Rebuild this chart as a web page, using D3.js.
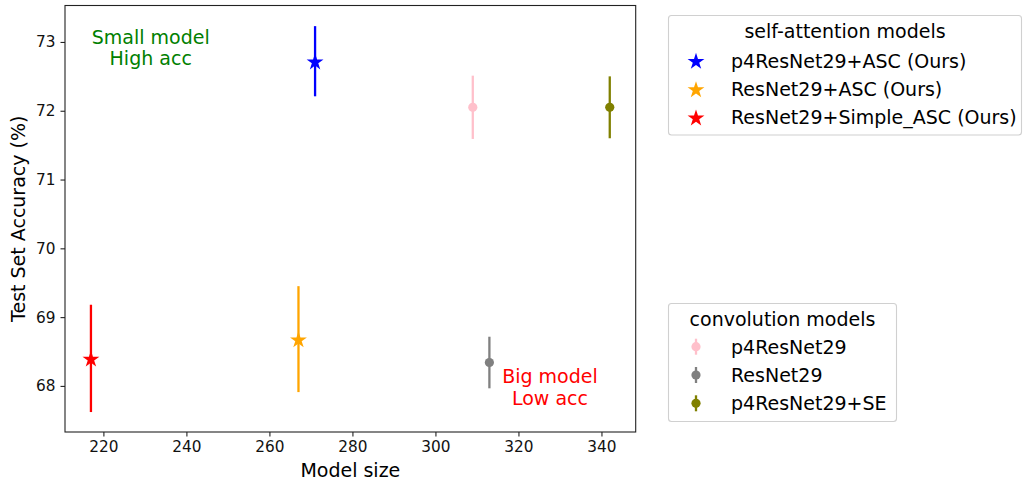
<!DOCTYPE html>
<html>
<head>
<meta charset="utf-8">
<script src="https://cdn.jsdelivr.net/npm/d3@7"></script>
<style>
  body { margin: 0; background: #fff; }
  text { font-family: "DejaVu Sans", sans-serif; }
</style>
</head>
<body>
<script>
// self-attention models (star markers)
let starModels = ["p4ResNet29+ASC (Ours)", "ResNet29+ASC (Ours)", "ResNet29+Simple_ASC (Ours)"];
let starSizes = [271, 267, 217];
let starAcc = [72.72, 68.68, 68.40];
let starErr = [0.51, 0.77, 0.78];
let starColors = ["blue", "orange", "red"];

// convolution models (dot markers)
let convModels = ["p4ResNet29", "ResNet29", "p4ResNet29+SE"];
let convSizes = [309, 313, 342];
let convAcc = [72.05, 68.34, 72.05];
let convErr = [0.46, 0.375, 0.45];
let convColors = ["pink", "gray", "olive"];

let xTicks = [220, 240, 260, 280, 300, 320, 340];
let yTicks = [68, 69, 70, 71, 72, 73];

let W = 1026, H = 480;
let plot = {left: 65, right: 635.7, top: 5.5, bottom: 432};
let fontBig = "19px";

let svg = d3.select("body").append("svg")
    .attr("width", W)
    .attr("height", H);

let x = d3.scaleLinear().domain([210.75, 348.25]).range([plot.left, plot.right]);
let y = d3.scaleLinear().domain([67.33, 73.53]).range([plot.bottom, plot.top]);

// axes
let xAxis = svg.append("g")
    .attr("transform", "translate(0," + plot.bottom + ")")
    .call(d3.axisBottom(x).tickValues(xTicks).tickFormat(d3.format("d"))
        .tickSize(4.5).tickPadding(5).tickSizeOuter(0));
let yAxis = svg.append("g")
    .attr("transform", "translate(" + plot.left + ",0)")
    .call(d3.axisLeft(y).tickValues(yTicks).tickFormat(d3.format("d"))
        .tickSize(4.5).tickPadding(5).tickSizeOuter(0));

[xAxis, yAxis].forEach(function(a){
    a.select(".domain").remove();
    a.selectAll("line").attr("stroke", "#222").attr("stroke-width", 1.1);
    a.selectAll("text").style("font-size", "15.3px").attr("fill", "#111")
        .style("font-family", "DejaVu Sans, sans-serif");
});

// frame
svg.append("rect")
    .attr("x", plot.left)
    .attr("y", plot.top)
    .attr("width", plot.right - plot.left)
    .attr("height", plot.bottom - plot.top)
    .attr("fill", "none")
    .attr("stroke", "#222")
    .attr("stroke-width", 1.1);

// axis labels
svg.append("text")
    .attr("x", (plot.left + plot.right) / 2)
    .attr("y", 477)
    .attr("text-anchor", "middle")
    .style("font-size", fontBig)
    .text("Model size");

svg.append("text")
    .attr("transform", "translate(25," + ((plot.top + plot.bottom) / 2) + ") rotate(-90)")
    .attr("text-anchor", "middle")
    .style("font-size", fontBig)
    .text("Test Set Accuracy (%)");

let star = d3.symbol().type(d3.symbolStar).size(88);

function drawErr(g, cx, lo, hi, color){
    g.append("line")
        .attr("x1", cx).attr("x2", cx)
        .attr("y1", lo).attr("y2", hi)
        .attr("stroke", color)
        .attr("stroke-width", 2.3);
}

// convolution models
convModels.forEach(function(m, i){
    let g = svg.append("g");
    drawErr(g, x(convSizes[i]), y(convAcc[i] - convErr[i]), y(convAcc[i] + convErr[i]), convColors[i]);
    g.append("circle")
        .attr("cx", x(convSizes[i]))
        .attr("cy", y(convAcc[i]))
        .attr("r", 4.6)
        .attr("fill", convColors[i]);
});

// self-attention models
starModels.forEach(function(m, i){
    let g = svg.append("g");
    drawErr(g, x(starSizes[i]), y(starAcc[i] - starErr[i]), y(starAcc[i] + starErr[i]), starColors[i]);
    g.append("path")
        .attr("d", star)
        .attr("transform", "translate(" + x(starSizes[i]) + "," + (y(starAcc[i]) + 1) + ")")
        .attr("fill", starColors[i]);
});

// annotations
let notes = [
    {lines: ["Small model", "High acc"], sx: 231.4, sy: 72.977, color: "green"},
    {lines: ["Big model", "Low acc"], sx: 327.6, sy: 68.04, color: "red"}
];
notes.forEach(function(n){
    let t = svg.append("text")
        .attr("text-anchor", "middle")
        .attr("fill", n.color)
        .style("font-size", fontBig);
    n.lines.forEach(function(l, k){
        t.append("tspan")
            .attr("x", x(n.sx))
            .attr("y", y(n.sy) + k * 21.5)
            .text(l);
    });
});

// legends
function legend(box, title, names, colors, kind){
    let g = svg.append("g");
    g.append("rect")
        .attr("x", box.x).attr("y", box.y)
        .attr("width", box.w).attr("height", box.h)
        .attr("rx", 3)
        .attr("fill", "white")
        .attr("stroke", "#d0d0d0")
        .attr("stroke-width", 1.1);
    g.append("text")
        .attr("x", box.x + box.w / 2)
        .attr("y", box.y + box.titleY)
        .attr("text-anchor", "middle")
        .style("font-size", fontBig)
        .text(title);
    names.forEach(function(n, i){
        let cy = box.y + box.row0 + i * 28.3;
        let mx = box.x + 27.5;
        if (kind === "star") {
            g.append("path")
                .attr("d", star)
                .attr("transform", "translate(" + mx + "," + (cy + 1) + ")")
                .attr("fill", colors[i]);
        } else {
            g.append("line")
                .attr("x1", mx).attr("x2", mx)
                .attr("y1", cy - 8).attr("y2", cy + 8)
                .attr("stroke", colors[i])
                .attr("stroke-width", 2.3);
            g.append("circle")
                .attr("cx", mx).attr("cy", cy)
                .attr("r", 4.6)
                .attr("fill", colors[i]);
        }
        g.append("text")
            .attr("x", box.x + 62.5)
            .attr("y", cy + 6.8)
            .style("font-size", fontBig)
            .text(n);
    });
}

legend({x: 668.5, y: 15.5, w: 353, h: 119.5, titleY: 22.5, row0: 45.2},
    "self-attention models", starModels, starColors, "star");
legend({x: 668.5, y: 303.5, w: 228, h: 118, titleY: 22.5, row0: 43.2},
    "convolution models", convModels, convColors, "dot");
</script>
</body>
</html>
